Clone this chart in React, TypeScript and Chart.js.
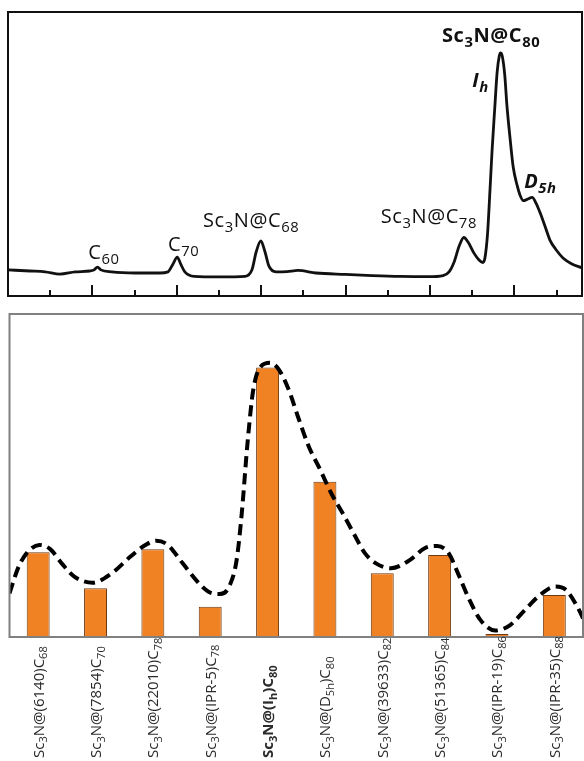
import React, { useEffect, useRef } from 'react';
import { Chart, registerables } from 'chart.js';

Chart.register(...registerables);

// ---------- Top panel: chromatogram ----------
const retentionTime = [
  0.0, 0.52, 0.88, 1.23, 1.59, 1.94, 2.04, 2.12, 2.2, 2.46, 3.01, 3.6, 3.79, 3.91, 4.01, 4.09, 4.19, 4.41,
  5.02, 5.62, 5.78, 5.88, 5.99, 6.09, 6.18, 6.35, 6.61, 6.87, 7.3, 7.99, 8.63, 9.29, 9.95, 10.31, 10.45,
  10.57, 10.69, 10.8, 10.9, 11.04, 11.16, 11.25, 11.3, 11.36, 11.42, 11.47, 11.53, 11.59, 11.64, 11.67,
  11.71, 11.77, 11.82, 11.9, 11.97, 12.06, 12.13, 12.21, 12.3, 12.42, 12.51, 12.61, 12.73, 12.84, 12.99,
  13.15, 13.36, 13.6,
];
const absorbance = [
  9.2, 8.8, 8.5, 7.7, 8.5, 8.8, 9.2, 10.2, 9.2, 8.5, 8.1, 8.1, 8.5, 11.3, 13.7, 11.3, 8.5, 6.9,
  6.7, 6.9, 9.2, 15.5, 19.4, 15.5, 10.6, 8.5, 8.6, 9.0, 8.1, 7.6, 7.2, 6.9, 6.8, 7.2, 8.5,
  12.0, 17.6, 20.6, 19.0, 15.1, 12.7, 11.8, 13.4, 21.5, 37.3, 51.4, 65.5, 78.9, 84.5, 85.6,
  84.5, 77.8, 67.3, 54.9, 45.4, 39.1, 35.6, 33.6, 34.0, 34.7, 32.7, 29.2, 24.3, 19.7, 16.2,
  13.4, 11.3, 9.9,
];
const timeTicks = [1, 2, 3, 4, 5, 6, 7, 8, 9, 10, 11, 12, 13];

const peakNames = ['C_{60}', 'C_{70}', 'Sc_3N@C_{68}', 'Sc_3N@C_{78}', 'Sc_3N@C_{80}', 'I_h', 'D_{5h}'];
const peakLabelTime = [1.9, 3.79, 4.62, 8.83, 10.28, 11.0, 12.23];
const peakLabelLevel = [13.0, 15.8, 24.3, 25.7, 89.4, 73.6, 38.0];
const peakLabelWeight = ['', '', '', '', 'bold ', 'italic bold ', 'italic bold '];

// ---------- Bottom panel: isomer abundance ----------
const isomers = [
  'Sc_3N@(6140)C_{68}',
  'Sc_3N@(7854)C_{70}',
  'Sc_3N@(22010)C_{78}',
  'Sc_3N@(IPR-5)C_{78}',
  'Sc_3N@(I_h)C_{80}',
  'Sc_3N@(D_{5h})C_{80}',
  'Sc_3N@(39633)C_{82}',
  'Sc_3N@(51365)C_{84}',
  'Sc_3N@(IPR-19)C_{86}',
  'Sc_3N@(IPR-35)C_{88}',
];
const abundance = [26.2, 15.1, 27.2, 9.4, 83.4, 48.1, 19.7, 25.4, 0.9, 13.0];
const boldIsomer = 4;

const fitPosition = [
  0.0, 0.16, 0.32, 0.52, 0.71, 0.91, 1.13, 1.45, 1.78, 2.11, 2.37, 2.56, 2.76, 3.02, 3.28, 3.47, 3.67,
  3.83, 3.96, 4.05, 4.15, 4.25, 4.38, 4.54, 4.7, 4.87, 5.03, 5.22, 5.42, 5.61, 5.81, 6.0, 6.2, 6.39,
  6.65, 6.98, 7.24, 7.46, 7.66, 7.82, 8.02, 8.21, 8.47, 8.73, 8.99, 9.25, 9.51, 9.7, 9.9, 10.0,
];
const fitLevel = [
  13.5, 21.8, 26.4, 28.5, 27.2, 22.8, 18.7, 16.8, 19.7, 24.9, 28.5, 29.8, 28.5, 22.8, 17.1, 14.0, 13.3,
  15.6, 23.8, 38.3, 60.0, 76.5, 83.7, 84.9, 82.7, 76.5, 68.2, 58.9, 51.7, 44.5, 38.3, 32.1, 25.9, 22.8,
  21.3, 23.8, 27.5, 28.2, 25.9, 19.7, 11.5, 5.3, 2.0, 3.7, 8.4, 13.0, 15.6, 14.6, 9.4, 5.8,
];

// ---------- helpers ----------
type Seg = { t: string; sub: boolean };
function parseRich(s: string): Seg[] {
  const segs: Seg[] = [];
  let buf = '';
  let i = 0;
  while (i < s.length) {
    if (s[i] === '_') {
      if (buf) segs.push({ t: buf, sub: false });
      buf = '';
      i++;
      let t = '';
      if (s[i] === '{') {
        const j = s.indexOf('}', i);
        t = s.slice(i + 1, j);
        i = j + 1;
      } else {
        t = s[i];
        i++;
      }
      segs.push({ t, sub: true });
    } else {
      buf += s[i];
      i++;
    }
  }
  if (buf) segs.push({ t: buf, sub: false });
  return segs;
}

function drawRich(
  ctx: CanvasRenderingContext2D,
  text: string,
  x: number,
  y: number,
  size: number,
  family: string,
  weight: string,
  spacing: number,
) {
  const segs = parseRich(text);
  let cx = x;
  (ctx as any).letterSpacing = spacing + 'px';
  ctx.textAlign = 'left';
  ctx.textBaseline = 'alphabetic';
  for (const s of segs) {
    const fs = s.sub ? size * 0.74 : size;
    ctx.font = `${weight}${fs}px ${family}`;
    ctx.fillText(s.t, cx, s.sub ? y + size * 0.24 : y);
    cx += ctx.measureText(s.t).width;
  }
  (ctx as any).letterSpacing = '0px';
}

const topDecor = {
  id: 'topDecor',
  afterDraw(chart: any) {
    const { ctx, chartArea: a, scales } = chart;
    ctx.save();
    ctx.strokeStyle = '#111';
    ctx.lineWidth = 2;
    ctx.strokeRect(a.left, a.top, a.right - a.left, a.bottom - a.top);
    ctx.beginPath();
    for (const v of timeTicks) {
      const px = Math.round(scales.x.getPixelForValue(v));
      const len = v % 2 === 0 ? 11 : 6;
      ctx.moveTo(px, a.bottom);
      ctx.lineTo(px, a.bottom - len);
    }
    ctx.stroke();
    ctx.fillStyle = '#111';
    peakNames.forEach((name, i) => {
      const px = scales.x.getPixelForValue(peakLabelTime[i]);
      const py = scales.y.getPixelForValue(peakLabelLevel[i]);
      drawRich(ctx, name, px, py, 20, '"Open Sans", sans-serif', peakLabelWeight[i], 0.6);
    });
    ctx.restore();
  },
};

const bottomDecor = {
  id: 'bottomDecor',
  afterDatasetsDraw(chart: any) {
    const { ctx, chartArea: a } = chart;
    ctx.save();
    ctx.strokeStyle = '#808080';
    ctx.lineWidth = 2;
    ctx.strokeRect(a.left, a.top, a.right - a.left, a.bottom - a.top);
    ctx.restore();
  },
  afterDraw(chart: any) {
    const { ctx, scales } = chart;
    ctx.save();
    ctx.fillStyle = '#2a2a2a';
    const size = 15;
    isomers.forEach((name, i) => {
      const px = scales.x.getPixelForValue(i);
      ctx.save();
      ctx.translate(px + size * 0.36, chart.height - 3);
      ctx.rotate(-Math.PI / 2);
      drawRich(ctx, name, 0, 0, size, '"Open Sans", sans-serif', i === boldIsomer ? 'bold ' : '', 0);
      ctx.restore();
    });
    ctx.restore();
  },
};

function TopChart() {
  const ref = useRef<HTMLCanvasElement>(null);
  useEffect(() => {
    const chart = new Chart(ref.current!, {
      type: 'line',
      data: {
        datasets: [
          {
            data: retentionTime.map((t, i) => ({ x: t, y: absorbance[i] })),
            borderColor: '#111',
            borderWidth: 2.8,
            pointRadius: 0,
            cubicInterpolationMode: 'monotone',
            fill: false,
          },
        ],
      },
      options: {
        responsive: false,
        animation: false,
        layout: { padding: { left: 8, right: 2, top: 12, bottom: 4 } },
        scales: {
          x: { type: 'linear', min: 0, max: 13.6, display: false },
          y: { min: 0, max: 100, display: false },
        },
        plugins: { legend: { display: false }, tooltip: { enabled: false } },
      },
      plugins: [topDecor],
    } as any);
    return () => chart.destroy();
  }, []);
  return <canvas ref={ref} width={584} height={300} style={{ position: 'absolute', left: 0, top: 0 }} />;
}

function BottomChart() {
  const ref = useRef<HTMLCanvasElement>(null);
  useEffect(() => {
    const chart = new Chart(ref.current!, {
      type: 'bar',
      data: {
        labels: isomers,
        datasets: [
          {
            type: 'bar',
            data: abundance,
            backgroundColor: '#F08224',
            borderColor: '#6b3a14',
            borderWidth: 1,
            barPercentage: 0.4,
            categoryPercentage: 1,
            grouped: false,
            order: 2,
          },
          {
            type: 'line',
            xAxisID: 'x2',
            data: fitPosition.map((p, i) => ({ x: p, y: fitLevel[i] })),
            borderColor: '#000',
            borderWidth: 4,
            borderDash: [11, 6],
            pointRadius: 0,
            cubicInterpolationMode: 'monotone',
            fill: false,
            order: 1,
          },
        ],
      },
      options: {
        responsive: false,
        animation: false,
        layout: { padding: { left: 9.5, right: 1, top: 14, bottom: 124 } },
        scales: {
          x: { type: 'category', display: false, offset: true },
          x2: { type: 'linear', min: 0, max: 10, display: false, offset: false, position: 'bottom' },
          y: { min: 0, max: 100, display: false },
        },
        plugins: { legend: { display: false }, tooltip: { enabled: false } },
      },
      plugins: [bottomDecor],
    } as any);
    return () => chart.destroy();
  }, []);
  return <canvas ref={ref} width={584} height={461} style={{ position: 'absolute', left: 0, top: 300 }} />;
}

export default function App() {
  return (
    <div
      style={{
        position: 'fixed',
        left: 0,
        top: 0,
        width: 584,
        height: 761,
        background: '#fff',
        overflow: 'hidden',
      }}
    >
      <TopChart />
      <BottomChart />
    </div>
  );
}
